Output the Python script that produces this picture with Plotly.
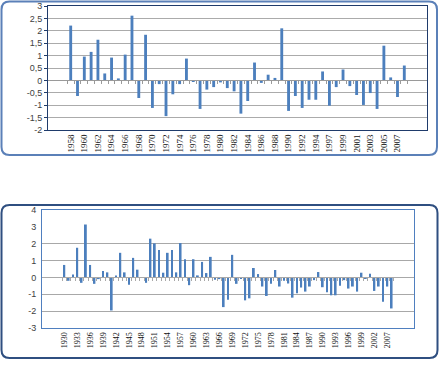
import plotly.graph_objects as go

# ---------------- data ----------------
top_years = [str(y) for y in range(1958, 1996)] + [str(y) for y in range(1997, 2009)]
top_values = [2.21, -0.63, 0.96, 1.15, 1.64, 0.28, 0.92, 0.08, 1.04, 2.61,
              -0.71, 1.84, -1.11, -0.15, -1.44, -0.56, -0.15, 0.88, -0.03, -1.15,
              -0.37, -0.27, -0.08, -0.31, -0.44, -1.34, -0.83, 0.72, -0.10, 0.23,
              0.10, 2.10, -1.23, -0.63, -1.11, -0.78, -0.78, 0.36, -1.02, -0.27,
              0.44, -0.23, -0.59, -0.99, -0.51, -1.15, 1.40, 0.12, -0.67, 0.60]
top_ytick_vals = [3, 2.5, 2, 1.5, 1, 0.5, 0, -0.5, -1, -1.5, -2]
top_ytick_text = ["3", "2,5", "2", "1,5", "1", "0,5", "0", "-0,5", "-1", "-1,5", "-2"]

bot_years = [str(y) for y in range(1930, 2004)] + ["2005", "2007", "2008"]
bot_values = [0.74, -0.20, 0.18, 1.76, -0.32, 3.14, 0.74, -0.38, -0.10, 0.38,
              0.30, -1.96, 0.12, 1.46, 0.30, -0.44, 1.16, 0.46, 0.02, -0.32,
              2.30, 2.02, 1.62, 0.28, 1.46, 1.62, 0.30, 2.04, 1.08, -0.46,
              1.08, 0.12, 0.92, 0.26, 1.22, -0.14, -0.10, -1.76, -1.32, 1.34,
              -0.38, -0.04, -1.36, -1.24, 0.56, 0.20, -0.54, -1.10, -0.38, 0.44,
              -0.54, -0.20, -0.36, -1.20, -0.94, -0.60, -0.84, -0.54, -0.16, 0.32,
              -0.58, -0.88, -1.06, -1.06, -0.50, -0.16, -0.66, -0.54, -0.84, 0.28,
              -0.05, 0.22, -0.80, -0.54, -1.44, -0.54, -1.84]
bot_ytick_vals = [4, 3, 2, 1, 0, -1, -2, -3]
bot_ytick_text = ["4", "3", "2", "1", "0", "-1", "-2", "-3"]
bot_grid_vals = [2, 1, -1, -2]

# ---------------- layout geometry ----------------
W, H = 439, 389
def px_x(p): return p / W
def px_y(p): return 1 - p / H

top_dom_x = [px_x(48), px_x(427)]
top_dom_y = [px_y(130), px_y(6)]
bot_dom_x = [px_x(42), px_x(414)]
bot_dom_y = [px_y(328), px_y(210)]
top_range = [-2, 3]
bot_range = [-3, 4]

def zero_pos(dom, rng):
    return dom[0] + (0 - rng[0]) / (rng[1] - rng[0]) * (dom[1] - dom[0])

BAR = "#4c7fbd"

fig = go.Figure()
fig.add_trace(go.Bar(x=top_years, y=top_values, marker=dict(color=BAR, line=dict(width=0)),
                     xaxis="x", yaxis="y", showlegend=False, hoverinfo="x+y"))
fig.add_trace(go.Scatter(x=top_years, y=top_values, mode="markers", marker=dict(opacity=0),
                         xaxis="x3", yaxis="y", showlegend=False, hoverinfo="skip"))
fig.add_trace(go.Bar(x=bot_years, y=bot_values, marker=dict(color=BAR, line=dict(width=0)),
                     xaxis="x2", yaxis="y2", showlegend=False, hoverinfo="x+y"))
fig.add_trace(go.Scatter(x=bot_years, y=bot_values, mode="markers", marker=dict(opacity=0),
                         xaxis="x4", yaxis="y2", showlegend=False, hoverinfo="skip"))

xfont_top = dict(family="Liberation Serif", size=9, color="#111")
xfont_bot = dict(family="Liberation Serif", size=8, color="#111")
yfont = dict(family="Liberation Sans", size=9, color="#404040")

def rounded_box(x0p, y0p, x1p, y1p, r=8):
    x0, x1 = px_x(x0p), px_x(x1p)
    ya, yb = px_y(y1p), px_y(y0p)  # bottom, top in paper
    rx, ry = r / W, r / H
    return (f"M {x0+rx},{yb} L {x1-rx},{yb} Q {x1},{yb} {x1},{yb-ry} "
            f"L {x1},{ya+ry} Q {x1},{ya} {x1-rx},{ya} L {x0+rx},{ya} "
            f"Q {x0},{ya} {x0},{ya+ry} L {x0},{yb-ry} Q {x0},{yb} {x0+rx},{yb} Z")

shapes = [
    dict(type="path", xref="paper", yref="paper", path=rounded_box(1.5, 1.5, 437, 155),
         line=dict(color="#5b80b8", width=2), layer="below"),
    dict(type="path", xref="paper", yref="paper", path=rounded_box(1.5, 205, 437.5, 358),
         line=dict(color="#2f4f80", width=2), layer="below"),
]

fig.update_layout(
    template="none",
    width=W, height=H,
    margin=dict(l=0, r=0, t=0, b=0, autoexpand=False),
    paper_bgcolor="white", plot_bgcolor="rgba(0,0,0,0)",
    bargap=0.58,
    shapes=shapes,
    xaxis=dict(domain=top_dom_x, anchor="y", type="category", automargin=False,
               tickmode="array", tickvals=top_years[::2], tickangle=-90,
               tickfont=xfont_top, ticks="", showgrid=False, zeroline=False,
               showline=True, mirror=True, linecolor="#1f3b6b", linewidth=1),
    yaxis=dict(domain=top_dom_y, anchor="x", range=top_range, automargin=False,
               tickmode="array", tickvals=top_ytick_vals, ticktext=top_ytick_text,
               tickfont=yfont, ticks="outside", ticklen=3, tickcolor="#1f3b6b",
               showgrid=True, gridcolor="#ababab", gridwidth=1, zeroline=False,
               showline=True, mirror=True, linecolor="#1f3b6b", linewidth=1),
    xaxis3=dict(overlaying="x", matches="x", anchor="free", type="category", automargin=False,
                position=zero_pos(top_dom_y, top_range),
                showticklabels=False, ticks="outside", ticklen=3, tickson="boundaries",
                tickmode="array", tickvals=top_years, tickcolor="#9a9a9a",
                showline=True, linecolor="#9a9a9a", linewidth=1, showgrid=False, zeroline=False),
    xaxis2=dict(domain=bot_dom_x, anchor="y2", type="category", automargin=False,
                tickmode="array", tickvals=bot_years[::3], tickangle=-90,
                tickfont=xfont_bot, ticks="", showgrid=False, zeroline=False,
                showline=True, mirror=True, linecolor="#4f7fbf", linewidth=1),
    yaxis2=dict(domain=bot_dom_y, anchor="x2", range=bot_range, automargin=False,
                tickmode="array", tickvals=bot_ytick_vals, ticktext=bot_ytick_text,
                tickfont=yfont, ticks="outside", ticklen=3, tickcolor="rgba(0,0,0,0)",
                showgrid=False, zeroline=False,
                minor=dict(tickmode="array", tickvals=bot_grid_vals, showgrid=True,
                           gridcolor="#a8a8a8", gridwidth=1, ticks=""),
                showline=True, mirror=True, linecolor="#4f7fbf", linewidth=1),
    xaxis4=dict(overlaying="x2", matches="x2", anchor="free", type="category", automargin=False,
                position=zero_pos(bot_dom_y, bot_range),
                showticklabels=False, ticks="outside", ticklen=3, tickson="boundaries",
                tickmode="array", tickvals=bot_years, tickcolor="#a8a8a8",
                showline=True, linecolor="#a8a8a8", linewidth=1, showgrid=False, zeroline=False),
)

fig.write_html("out.html", config={"displayModeBar": False},
               post_script="document.body.style.margin='0px';")
